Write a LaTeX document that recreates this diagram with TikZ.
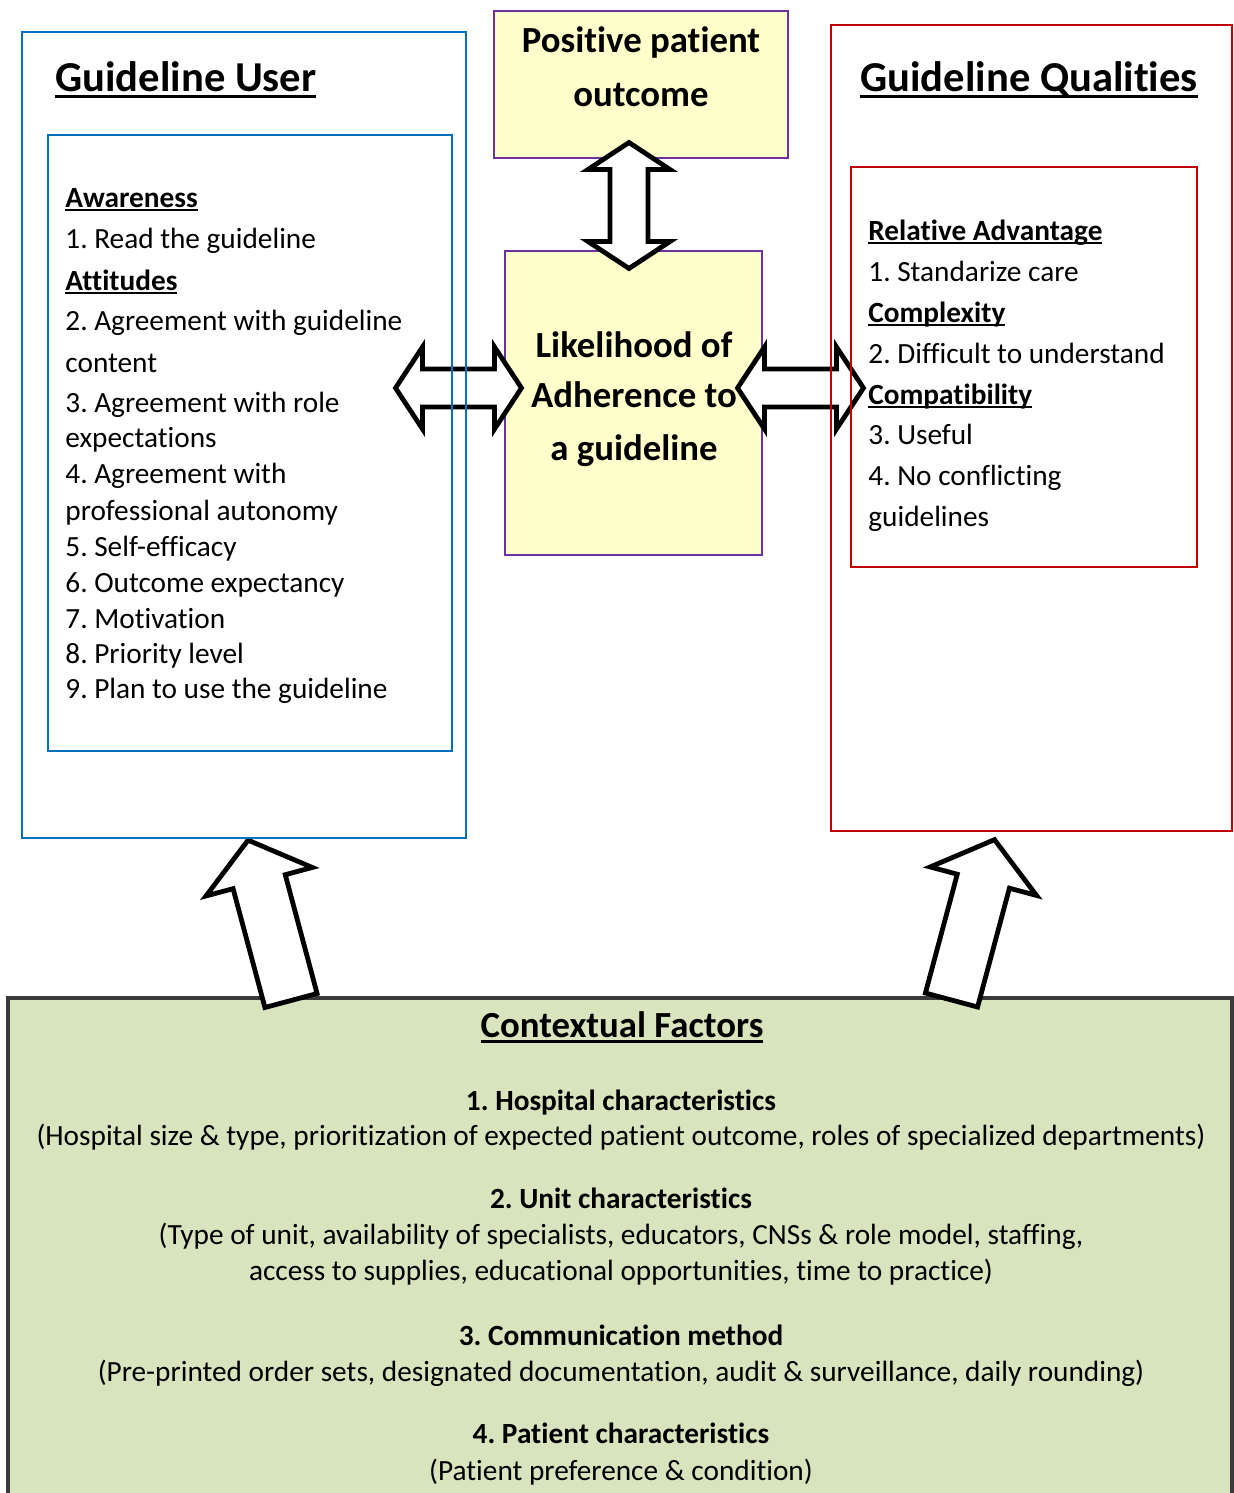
\documentclass[tikz,border=0pt]{standalone}
\usepackage{fontspec}
\setmainfont[RawFeature={-liga;-clig;-calt}]{Carlito}
\usepackage{tikz}
\usetikzlibrary{positioning}
\frenchspacing

\definecolor{userblue}{HTML}{0070C0}
\definecolor{qualred}{HTML}{C00000}
\definecolor{outpurple}{HTML}{7030A0}
\definecolor{outyellow}{HTML}{FFFFCC}
\definecolor{ctxgreen}{HTML}{D7E4BD}
\definecolor{ctxgray}{HTML}{3A3A3A}

\newcommand\bodyfont{\fontsize{14.65}{17}\selectfont}
\newcommand\midfont{\fontsize{18.4}{22}\selectfont\bfseries}
\newcommand\titlefont{\fontsize{21.3}{25}\selectfont\bfseries}
\newcommand\ulbox[1]{\setbox0\hbox{#1}\rlap{\rule[-0.15em]{\wd0}{0.075em}}\box0}
\newcommand\hd[1]{\ulbox{\textbf{#1}}}

\tikzset{
  arrowline/.style={draw=black, fill=white, line width=2.4pt, miter limit=4},
  dblarrow/.pic={\path[arrowline] (-63,0) -- (-36,-41) -- (-36,-19) -- (36,-19) -- (36,-41)
      -- (63,0) -- (36,41) -- (36,19) -- (-36,19) -- (-36,41) -- cycle;},
  uparrow/.pic={\path[arrowline] (0,-27) -- (123,-27) -- (123,-55) -- (166,0) -- (123,55)
      -- (123,27) -- (0,27) -- cycle;},
  frame/.style={draw, line width=1pt, anchor=north west, inner sep=0pt, outer sep=0pt},
  txt/.style={anchor=base west, inner sep=0pt, font=\bodyfont},
  ctxtxt/.style={anchor=base, inner sep=0pt, font=\bodyfont},
}

\begin{document}
\begin{tikzpicture}[x=0.5pt, y=-0.5pt]
    \useasboundingbox (0,0) rectangle (1233,1493);

    \node[frame, draw=ctxgray, line width=2pt, fill=ctxgreen, minimum width=612pt, minimum height=260pt] (ctx) at (8,998) {};
    \node[frame, draw=outpurple, fill=outyellow, minimum width=147pt, minimum height=73.5pt] (outcome) at (494,11) {};
    \node[frame, draw=outpurple, fill=outyellow, minimum width=128.5pt, minimum height=152pt] (adh) at (505,251) {};

    \pic at (629,205.5) [rotate=90] {dblarrow};
    \pic at (458.5,388) {dblarrow};
    \pic at (800.5,388) {dblarrow};
    \pic at (291,1000.5) [rotate=105] {uparrow};
    \pic at (951.5,1000) [rotate=75] {uparrow};

    \node[frame, draw=userblue, minimum width=222pt, minimum height=403pt] (user) at (22,32) {};
    \node[frame, draw=userblue, minimum width=202pt, minimum height=308pt] (userin) at (48,135) {};
    \node[frame, draw=qualred, minimum width=200.5pt, minimum height=403pt] (qual) at (831,25) {};
    \node[frame, draw=qualred, minimum width=173pt, minimum height=200pt] (qualin) at (851,167) {};

    \node[anchor=base west, inner sep=0pt, font=\titlefont] (usertitle) at (55,92) {\ulbox{Guideline User}};
    \node[anchor=base west, inner sep=0pt, font=\titlefont] (qualtitle) at (860,92) {\ulbox{Guideline Qualities}};
    \node[anchor=base, inner sep=0pt, font=\midfont] (ctxtitle) at (622,1037) {\ulbox{Contextual Factors}};

    \foreach \y/\txt [count=\k] in {53/Positive patient, 106/outcome}
        \node[anchor=base, inner sep=0pt, font=\midfont] (out\k) at (641,\y) {\txt};
    \foreach \y/\txt [count=\k] in {357/Likelihood of, 407/Adherence to, 460/a guideline}
        \node[anchor=base, inner sep=0pt, font=\midfont] (adh\k) at (634,\y) {\txt};

    \foreach \y/\txt [count=\k] in {207/\hd{Awareness}, 248/1. Read the guideline, 290/\hd{Attitudes},
        330/2. Agreement with guideline, 372/content, 412/3. Agreement with role, 447/expectations,
        483/4. Agreement with, 520/professional autonomy, 556/5. Self-efficacy,
        592/6. Outcome expectancy, 628/7. Motivation, 663/8. Priority level, 698/9. Plan to use the guideline}
        \node[txt] (user\k) at (65,\y) {\txt};

    \foreach \y/\txt [count=\k] in {240/\hd{Relative Advantage}, 281/1. Standarize care, 322/\hd{Complexity},
        363/2. Difficult to understand, 404/\hd{Compatibility}, 444/3. Useful, 485/4. No conflicting, 526/guidelines}
        \node[txt] (qual\k) at (868,\y) {\txt};

    \foreach \y/\txt [count=\k] in {1110/\textbf{1. Hospital characteristics},
        1145/{(Hospital size \& type, prioritization of expected patient outcome, roles of specialized departments)},
        1208/\textbf{2. Unit characteristics},
        1244/{(Type of unit, availability of specialists, educators, CNSs \& role model, staffing,},
        1280/{access to supplies, educational opportunities, time to practice)},
        1345/\textbf{3. Communication method},
        1381/{(Pre-printed order sets, designated documentation, audit \& surveillance, daily rounding)},
        1443/\textbf{4. Patient characteristics},
        1480/{(Patient preference \& condition)}}
        \node[ctxtxt] (ctx\k) at (621,\y) {\txt};
\end{tikzpicture}
\end{document}
